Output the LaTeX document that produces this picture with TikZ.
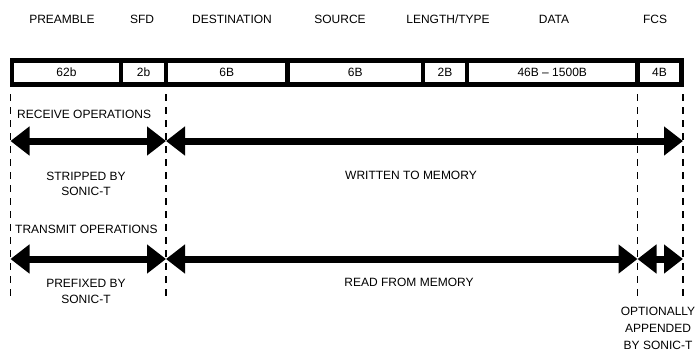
\documentclass[tikz,border=0pt]{standalone}
\usepackage{fontspec}
\setmainfont{Liberation Sans}
\usetikzlibrary{arrows.meta}

\begin{document}
\begin{tikzpicture}[x=1pt, y=-1pt,
    cell/.style = {draw, line width=4.5pt, minimum height=24pt,
                inner sep=0pt, font=\fontsize{12}{14}\selectfont},
    lbl/.style = {anchor=base, inner sep=0pt,
                font=\fontsize{12}{14}\selectfont},
    guide/.style = {line width=1.4pt, dash pattern=on 7pt off 6pt},
    span/.style = {line width=7pt,
                {Triangle[length=19pt,width=28pt]}-{Triangle[length=19pt,width=28pt]}}
                    ]
    \useasboundingbox (0,0) rectangle (698,356);
    % field boundaries of the frame
    \def\xa{12}
    \def\xb{121}
    \def\xc{166}
    \def\xd{287.5}
    \def\xe{423}
    \def\xf{467}
    \def\xg{637.5}
    \def\xh{681.5}
    \def\yc{72.5}
    \def\ry{141}
    \def\ty{259}
    % header
    \node[lbl] at (62,23) (hpre) {PREAMBLE};
    \node[lbl] at (142,23) (hsfd) {SFD};
    \node[lbl] at (232,23) (hdst) {DESTINATION};
    \node[lbl] at (340,23) (hsrc) {SOURCE};
    \node[lbl] at (448,23) (hlen) {LENGTH/TYPE};
    \node[lbl] at (554,23) (hdat) {DATA};
    \node[lbl] at (655,23) (hfcs) {FCS};
    % frame
    \node[cell, minimum width=\xb-\xa] at ({(\xa+\xb)/2},\yc) (pre) {62b};
    \node[cell, minimum width=\xc-\xb] at ({(\xb+\xc)/2},\yc) (sfd) {2b};
    \node[cell, minimum width=\xd-\xc] at ({(\xc+\xd)/2},\yc) (dst) {6B};
    \node[cell, minimum width=\xe-\xd] at ({(\xd+\xe)/2},\yc) (src) {6B};
    \node[cell, minimum width=\xf-\xe] at ({(\xe+\xf)/2},\yc) (len) {2B};
    \node[cell, minimum width=\xg-\xf] at ({(\xf+\xg)/2},\yc) (dat) {46B -- 1500B};
    \node[cell, minimum width=\xh-\xg] at ({(\xg+\xh)/2},\yc) (fcs) {4B};
    % dashed guides
    \foreach \gx/\gy in {10.5/302, 166/302, 637.5/300, 683/300}
        \draw[guide] (\gx,94) -- (\gx,\gy);
    % receive
    \node[lbl, anchor=base west] at (17,118) (rxop) {RECEIVE OPERATIONS};
    \coordinate (rxa) at (10.5,\ry);
    \coordinate (rxb) at (166,\ry);
    \coordinate (rxc) at (683,\ry);
    \draw[span] (rxa) -- (rxb);
    \draw[span] (rxb) -- (rxc);
    \node[lbl] at (86,180) (strip) {STRIPPED BY};
    \node[lbl] at (86,195) (stripb) {SONIC-T};
    \node[lbl] at (411,179) (wmem) {WRITTEN TO MEMORY};
    % transmit
    \node[lbl, anchor=base west] at (15,233) (txop) {TRANSMIT OPERATIONS};
    \coordinate (txa) at (10.5,\ty);
    \coordinate (txb) at (166,\ty);
    \coordinate (txc) at (637.5,\ty);
    \coordinate (txd) at (683,\ty);
    \draw[span] (txa) -- (txb);
    \draw[span] (txb) -- (txc);
    \draw[span] (txc) -- (txd);
    \node[lbl] at (86,287) (pref) {PREFIXED BY};
    \node[lbl] at (86,303) (prefb) {SONIC-T};
    \node[lbl] at (409,286) (rmem) {READ FROM MEMORY};
    \node[lbl] at (658,315) (opt) {OPTIONALLY};
    \node[lbl] at (658,332) (optb) {APPENDED};
    \node[lbl] at (658,349) (optc) {BY SONIC-T};
\end{tikzpicture}
\end{document}
